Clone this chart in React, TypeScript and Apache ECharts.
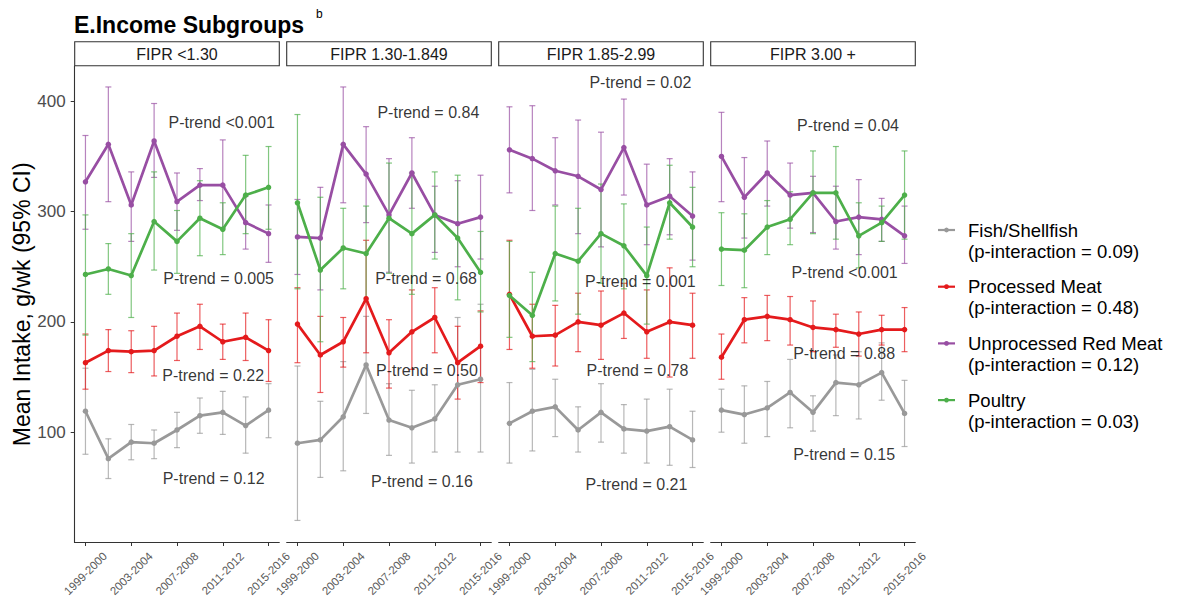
import { useEffect, useRef } from 'react';
import * as echarts from 'echarts';

// NHANES survey cycles on the x axis, and the subset that gets a tick label
const cycles = [
  '1999-2000', '2001-2002', '2003-2004', '2005-2006', '2007-2008',
  '2009-2010', '2011-2012', '2013-2014', '2015-2016',
];
const labelledCycles = [0, 2, 4, 6, 8];
const yTicks = [100, 200, 300, 400];

// Facets: family income-to-poverty ratio groups
const panels = ['FIPR <1.30', 'FIPR 1.30-1.849', 'FIPR 1.85-2.99', 'FIPR 3.00 +'];

const foods = ['Fish/Shellfish', 'Processed Meat', 'Unprocessed Red Meat', 'Poultry'];
const interactionP = ['0.09', '0.48', '0.12', '0.03'];
const foodColors = ['#999999', '#E41A1C', '#984EA3', '#4DAF4A'];

// Mean intake (g/wk) with 95% CI, one row per FIPR group
const fishMean = [
  [119, 76, 91, 90, 102, 115, 118, 106, 120],
  [90, 93, 114, 161, 111, 104, 112, 143, 148],
  [108, 119, 123, 102, 118, 103, 101, 105, 93],
  [120, 116, 122, 136, 118, 145, 143, 154, 117],
];
const fishLower = [
  [80, 58, 75, 76, 86, 99, 98, 81, 95],
  [20, 59, 65, 117, 79, 72, 82, 82, 82],
  [72, 83, 96, 82, 91, 81, 72, 70, 68],
  [100, 90, 96, 104, 101, 115, 112, 129, 87],
];
const fishUpper = [
  [158, 94, 107, 102, 118, 131, 137, 132, 144],
  [160, 128, 164, 205, 144, 138, 143, 204, 216],
  [145, 157, 148, 123, 144, 125, 130, 139, 119],
  [139, 142, 146, 166, 133, 170, 173, 181, 147],
];

const processedMean = [
  [163, 174, 173, 174, 187, 196, 182, 186, 174],
  [198, 170, 182, 221, 172, 191, 204, 163, 178],
  [225, 187, 188, 200, 197, 208, 191, 200, 197],
  [168, 202, 205, 202, 195, 193, 189, 193, 193],
];
const processedLower = [
  [139, 155, 154, 151, 165, 175, 166, 165, 146],
  [163, 136, 159, 172, 140, 157, 172, 130, 145],
  [175, 158, 160, 173, 166, 185, 167, 150, 167],
  [148, 181, 183, 179, 173, 177, 169, 179, 173],
];
const processedUpper = [
  [189, 193, 192, 196, 208, 216, 198, 208, 202],
  [231, 205, 204, 274, 202, 229, 231, 196, 210],
  [274, 216, 215, 226, 228, 235, 229, 249, 226],
  [189, 222, 224, 223, 219, 207, 209, 206, 213],
];

const redMeatMean = [
  [327, 361, 306, 364, 309, 324, 324, 290, 280],
  [277, 276, 361, 334, 297, 335, 297, 289, 295],
  [356, 348, 337, 332, 320, 358, 306, 314, 296],
  [350, 313, 335, 315, 317, 291, 295, 293, 278],
];
const redMeatLower = [
  [284, 309, 273, 331, 283, 310, 285, 266, 254],
  [243, 229, 308, 290, 245, 303, 263, 250, 257],
  [317, 301, 306, 280, 268, 315, 270, 279, 256],
  [309, 276, 305, 285, 281, 266, 261, 273, 253],
];
const redMeatUpper = [
  [369, 413, 336, 398, 335, 339, 365, 314, 306],
  [311, 322, 413, 377, 348, 367, 323, 328, 333],
  [395, 396, 367, 383, 372, 402, 343, 348, 336],
  [390, 349, 364, 344, 332, 323, 329, 312, 305],
];

const poultryMean = [
  [243, 248, 242, 291, 273, 294, 284, 315, 322],
  [308, 247, 267, 262, 294, 280, 297, 276, 245],
  [224, 206, 262, 255, 280, 269, 242, 308, 286],
  [266, 265, 286, 293, 317, 317, 278, 290, 315],
];
const poultryLower = [
  [188, 225, 204, 247, 244, 260, 261, 280, 284],
  [230, 182, 230, 218, 244, 225, 257, 220, 209],
  [186, 164, 219, 207, 235, 230, 198, 275, 250],
  [233, 231, 261, 270, 280, 275, 249, 273, 275],
];
const poultryUpper = [
  [297, 271, 280, 336, 301, 328, 308, 351, 359],
  [388, 313, 303, 305, 344, 335, 336, 333, 282],
  [273, 245, 305, 303, 325, 307, 286, 342, 322],
  [299, 298, 310, 318, 355, 359, 308, 305, 355],
];

// Trend test results per FIPR group
const fishTrend = ['P-trend = 0.12', 'P-trend = 0.16', 'P-trend = 0.21', 'P-trend = 0.15'];
const processedTrend = ['P-trend = 0.22', 'P-trend = 0.50', 'P-trend = 0.78', 'P-trend = 0.88'];
const redMeatTrend = ['P-trend <0.001', 'P-trend = 0.84', 'P-trend = 0.02', 'P-trend = 0.04'];
const poultryTrend = ['P-trend = 0.005', 'P-trend = 0.68', 'P-trend = 0.001', 'P-trend <0.001'];

// Where each trend annotation sits, in [cycle index, g/wk]
const fishTrendAt = [[5.6, 58], [5.44, 55], [5.55, 53], [5.36, 80]];
const processedTrendAt = [[5.58, 151], [5.66, 156], [5.59, 156], [5.36, 171]];
const redMeatTrendAt = [[5.95, 381], [5.72, 390], [5.72, 417], [5.53, 378]];
const poultryTrendAt = [[5.82, 239], [5.62, 239], [5.72, 237], [5.38, 245]];

const foodSeries = [
  { mean: fishMean, lower: fishLower, upper: fishUpper, trend: fishTrend, at: fishTrendAt },
  { mean: processedMean, lower: processedLower, upper: processedUpper, trend: processedTrend, at: processedTrendAt },
  { mean: redMeatMean, lower: redMeatLower, upper: redMeatUpper, trend: redMeatTrend, at: redMeatTrendAt },
  { mean: poultryMean, lower: poultryLower, upper: poultryUpper, trend: poultryTrend, at: poultryTrendAt },
];

const FONT = '"Liberation Sans", Arial, Helvetica, sans-serif';
const PANEL_LEFT = 74.7;
const PANEL_STEP = 212;
const PANEL_W = 204.6;
const PANEL_TOP = 66;
const PANEL_H = 476.5;
const AXIS_COLOR = '#333333';

function buildOption() {
  const grids: any[] = [];
  const xAxes: any[] = [];
  const yAxes: any[] = [];
  const series: any[] = [];
  const graphics: any[] = [];

  panels.forEach((panel, p) => {
    const left = PANEL_LEFT + PANEL_STEP * p;
    grids.push({ left, top: PANEL_TOP, width: PANEL_W, height: PANEL_H, containLabel: false });

    xAxes.push({
      gridIndex: p,
      type: 'value',
      min: -0.47,
      max: 8.47,
      splitLine: { show: false },
      axisLine: { show: true, onZero: false, lineStyle: { color: AXIS_COLOR, width: 1.1 } },
      axisTick: { show: true, customValues: labelledCycles, length: 3.5, lineStyle: { color: AXIS_COLOR } },
      axisLabel: {
        customValues: labelledCycles,
        formatter: (v: number) => cycles[Math.round(v)],
        rotate: 45,
        align: 'center',
        verticalAlign: 'middle',
        margin: 31,
        fontSize: 11.5,
        color: '#5a5a5a',
        fontFamily: FONT,
      },
    });

    yAxes.push({
      gridIndex: p,
      type: 'value',
      min: 0,
      max: 432,
      interval: 100,
      show: p === 0,
      splitLine: { show: false },
      axisLine: { show: true, onZero: false, lineStyle: { color: AXIS_COLOR, width: 1.1 } },
      axisTick: { show: true, customValues: yTicks, length: 4, lineStyle: { color: AXIS_COLOR } },
      axisLabel: { customValues: yTicks, fontSize: 17, color: '#4d4d4d', margin: 9, fontFamily: FONT },
      name: p === 0 ? 'Mean Intake, g/wk (95% CI)' : '',
      nameLocation: 'middle',
      nameGap: 37,
      nameTextStyle: { fontSize: 23, color: '#000', fontFamily: FONT },
    });

    // facet strip
    graphics.push({
      type: 'group',
      children: [
        {
          type: 'rect',
          shape: { x: left, y: 41.7, width: PANEL_W, height: 24 },
          style: { fill: '#fff', stroke: AXIS_COLOR, lineWidth: 1.1 },
        },
        {
          type: 'text',
          x: left + PANEL_W / 2,
          y: 54,
          style: {
            text: panel,
            font: `16px ${FONT}`,
            fill: '#1a1a1a',
            align: 'center',
            verticalAlign: 'middle',
          },
        },
      ],
    });

    foodSeries.forEach((food, f) => {
      const color = foodColors[f];
      series.push({
        type: 'custom',
        name: foods[f],
        xAxisIndex: p,
        yAxisIndex: p,
        z: 1,
        silent: true,
        encode: { x: 0, y: [1, 2] },
        data: cycles.map((_, i) => [i, food.lower[p][i], food.upper[p][i]]),
        renderItem: (_params: any, api: any) => {
          const hi = api.coord([api.value(0), api.value(2)]);
          const lo = api.coord([api.value(0), api.value(1)]);
          const w = 3;
          const style = { stroke: color, lineWidth: 1.2, opacity: 0.7 };
          return {
            type: 'group',
            children: [
              { type: 'line', shape: { x1: hi[0], y1: hi[1], x2: lo[0], y2: lo[1] }, style },
              { type: 'line', shape: { x1: hi[0] - w, y1: hi[1], x2: hi[0] + w, y2: hi[1] }, style },
              { type: 'line', shape: { x1: lo[0] - w, y1: lo[1], x2: lo[0] + w, y2: lo[1] }, style },
            ],
          };
        },
      });
      series.push({
        type: 'line',
        name: foods[f],
        xAxisIndex: p,
        yAxisIndex: p,
        z: 2 + f * 0.1,
        silent: true,
        data: cycles.map((_, i) => [i, food.mean[p][i]]),
        symbol: 'circle',
        symbolSize: 5.5,
        showSymbol: true,
        itemStyle: { color },
        lineStyle: { color, width: 2.7 },
      });
      series.push({
        type: 'scatter',
        xAxisIndex: p,
        yAxisIndex: p,
        z: 5,
        silent: true,
        symbolSize: 1,
        itemStyle: { color: 'rgba(0,0,0,0)' },
        data: [{ name: food.trend[p], value: food.at[p] }],
        label: {
          show: true,
          position: 'inside',
          formatter: '{b}',
          fontSize: 16,
          color: '#000',
          fontFamily: FONT,
        },
      });
    });
  });

  // legend: key line with a dot, two-line label
  const legendTop = 230;
  const legendStep = 56.7;
  foods.forEach((food, f) => {
    const y = legendTop + legendStep * f;
    graphics.push({
      type: 'group',
      children: [
        {
          type: 'line',
          shape: { x1: 938, y1: y, x2: 955, y2: y },
          style: { stroke: foodColors[f], lineWidth: 2.2 },
        },
        { type: 'circle', shape: { cx: 946.5, cy: y, r: 2.4 }, style: { fill: foodColors[f] } },
        {
          type: 'text',
          x: 968,
          y: y - 10.5,
          style: {
            text: `${food}\n(p-interaction = ${interactionP[f]})`,
            font: `18.5px ${FONT}`,
            lineHeight: 21,
            fill: '#000',
            align: 'left',
            verticalAlign: 'top',
          },
        },
      ],
    });
  });

  return {
    animation: false,
    textStyle: { fontFamily: FONT },
    title: [
      {
        text: 'E.Income Subgroups',
        left: 74,
        top: 13,
        padding: 0,
        textStyle: { fontSize: 23, fontWeight: 'bold', color: '#000', fontFamily: FONT },
      },
      {
        text: 'b',
        left: 316,
        top: 8,
        padding: 0,
        textStyle: { fontSize: 12, fontWeight: 'normal', color: '#000', fontFamily: FONT },
      },
    ],
    grid: grids,
    xAxis: xAxes,
    yAxis: yAxes,
    series,
    graphic: graphics,
  };
}

export default function App() {
  const ref = useRef<HTMLDivElement>(null);

  useEffect(() => {
    if (!ref.current) return;
    const chart = echarts.init(ref.current, undefined, { renderer: 'svg' });
    chart.setOption(buildOption() as any);
    return () => chart.dispose();
  }, []);

  return (
    <div
      ref={ref}
      style={{ position: 'absolute', left: 0, top: 0, width: 1178, height: 606, background: '#fff' }}
    />
  );
}
